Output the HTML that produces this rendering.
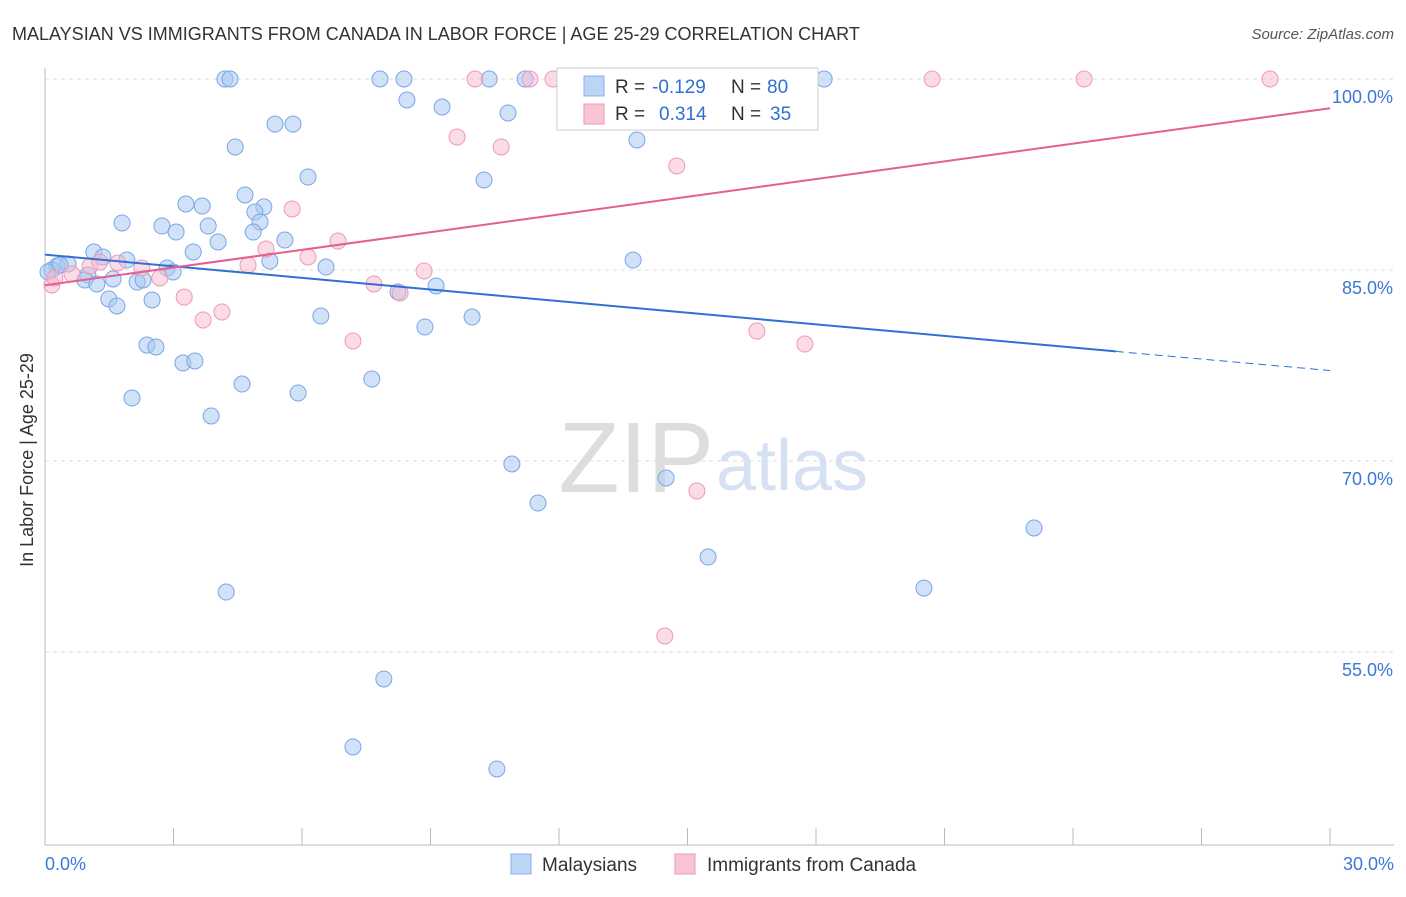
<!DOCTYPE html>
<html><head><meta charset="utf-8"><style>
body{margin:0;background:#fff;font-family:"Liberation Sans",sans-serif;}
svg text{font-family:"Liberation Sans",sans-serif;}
</style></head><body>
<svg id="chart" width="1406" height="892" xmlns="http://www.w3.org/2000/svg">
<text x="12" y="40" font-size="18" fill="#333">MALAYSIAN VS IMMIGRANTS FROM CANADA IN LABOR FORCE | AGE 25-29 CORRELATION CHART</text>
<text x="1394" y="39" font-size="15" fill="#555" font-style="italic" text-anchor="end">Source: ZipAtlas.com</text>
<text x="714" y="492" font-size="100" fill="#ddd" text-anchor="end" font-family="Liberation Serif">ZIP</text>
<text x="716" y="490" font-size="72" fill="#d6e2f3">atlas</text>
<g id="grid"></g>
<g id="axes"></g>
<g id="pts"></g>
<g id="lines"></g>
<text x="33" y="460" font-size="18" fill="#333" transform="rotate(-90 33 460)" text-anchor="middle">In Labor Force | Age 25-29</text>
<g>
<rect x="557" y="68" width="261" height="62" fill="#fff" stroke="#ccc"/>
<rect x="584" y="76" width="20" height="20" fill="#bcd4f6" stroke="#8ab0e8"/>
<rect x="584" y="104" width="20" height="20" fill="#f9c5d5" stroke="#ee9ab5"/>
<text x="615" y="93" font-size="19" fill="#333">R =</text>
<text x="652" y="93" font-size="19" fill="#2f6fd6">-0.129</text>
<text x="731" y="93" font-size="19" fill="#333">N =</text>
<text x="767" y="93" font-size="19" fill="#2f6fd6">80</text>
<text x="615" y="120" font-size="19" fill="#333">R =</text>
<text x="659" y="120" font-size="19" fill="#2f6fd6">0.314</text>
<text x="731" y="120" font-size="19" fill="#333">N =</text>
<text x="770" y="120" font-size="19" fill="#2f6fd6">35</text>
</g>
<g>
<rect x="511" y="854" width="20" height="20" fill="#bcd4f6" stroke="#8ab0e8"/>
<text x="542" y="871" font-size="19" fill="#333">Malaysians</text>
<rect x="675" y="854" width="20" height="20" fill="#f9c5d5" stroke="#ee9ab5"/>
<text x="707" y="871" font-size="19" fill="#333">Immigrants from Canada</text>
</g>
</svg>
<script>
const xTicks=[0,3,6,9,12,15,18,21,24,27,30];
const yTicks=[100,85,70,55];
const blueX=[4.20,4.32,7.82,8.38,10.37,11.21,12.26,14.12,18.19,8.45,9.27,10.81,5.37,5.79,4.44,13.82,6.14,10.25,4.67,3.29,3.67,5.11,4.90,1.80,2.73,3.06,3.81,5.02,4.86,4.04,5.60,3.46,1.14,1.35,1.91,5.25,13.73,6.56,0.28,0.54,2.85,2.99,0.16,1.00,1.59,2.15,2.29,0.93,1.21,9.13,8.24,1.49,2.50,1.68,6.44,9.97,8.87,2.38,2.59,3.22,3.50,7.63,4.60,2.03,5.91,3.88,10.90,11.51,14.50,23.09,15.48,20.52,4.23,7.91,7.19,10.55,0.07,0.35];
const blueY=[100,100,100,100,100,100,100,100,100,98.35,97.80,97.33,96.46,96.46,94.66,95.21,92.30,92.07,90.89,90.18,90.02,89.95,89.55,88.69,88.45,87.98,88.45,88.77,87.98,87.20,87.35,86.41,86.41,86.02,85.78,85.70,85.78,85.23,85.31,85.47,85.15,84.84,85.00,84.60,84.29,84.05,84.21,84.21,83.90,83.74,83.27,82.72,82.64,82.17,81.38,81.30,80.52,79.10,78.95,77.69,77.85,76.43,76.04,74.94,75.33,73.53,69.76,66.69,68.66,64.73,62.45,60.01,59.70,52.87,47.53,45.80,84.84,85.39];
const pinkX=[10.04,11.32,11.86,12.21,16.23,20.71,24.26,28.60,9.62,10.65,14.75,5.77,6.84,5.16,6.14,1.70,2.26,2.68,4.74,8.85,7.68,8.29,3.25,4.13,3.69,7.19,16.62,17.74,15.22,14.47,0.16,0.63,1.05,0.23,1.28];
const pinkY=[100,100,100,100,100,100,100,100,95.44,94.66,93.17,89.79,87.27,86.65,86.02,85.55,85.15,84.37,85.39,84.92,83.90,83.19,82.87,81.70,81.07,79.42,80.20,79.18,67.64,56.25,83.82,84.68,85.31,84.37,85.62];
const blueTrend=[86.2,78.6,77.1];
const blueTrendX=[0,25,30];
const pinkTrend=[83.8,97.7];
const pinkTrendX=[0,30];
const X=v=>45+v/30*1285, Y=v=>79+(100-v)*12.73;
const NS="http://www.w3.org/2000/svg";
function mk(t,a,p){const e=document.createElementNS(NS,t);for(const k in a)e.setAttribute(k,a[k]);document.getElementById(p).appendChild(e);return e;}
yTicks.forEach(v=>{
 const g=mk('line',{x1:45,x2:1394,y1:Y(v),y2:Y(v),stroke:'#ddd','stroke-dasharray':'4,4'},'grid');
 
 
 const t=mk('text',{x:1393,y:Y(v)+24,'font-size':18,fill:'#3b78d8','text-anchor':'end'},'axes');t.textContent=v.toFixed(1)+'%';
 
 
});
const ax=mk('line',{x1:45,x2:1394,y1:845,y2:845,stroke:'#bbb'},'axes');


const ay=mk('line',{x1:45,x2:45,y1:68,y2:845,stroke:'#bbb'},'axes');


xTicks.forEach(v=>{const l=mk('line',{x1:X(v),x2:X(v),y1:828,y2:845,stroke:'#bbb'},'axes');
 
 });
[[0,'start'],[30,'end']].forEach(([v,a])=>{const t=mk('text',{x:X(v)+(v?64:0),y:870,'font-size':18,fill:'#3b78d8','text-anchor':a},'axes');t.textContent=v.toFixed(1)+'%';
 
 });
blueX.forEach((v,i)=>{const c=mk('circle',{cx:X(v),cy:Y(blueY[i]),r:8,fill:'#aac8f2','fill-opacity':0.55,stroke:'#7aa6e6','stroke-width':1},'pts');
 
 });
pinkX.forEach((v,i)=>{const c=mk('circle',{cx:X(v),cy:Y(pinkY[i]),r:8,fill:'#f7b8cc','fill-opacity':0.5,stroke:'#ee9ab5','stroke-width':1},'pts');
 
 });
const b1=mk('line',{x1:X(blueTrendX[0]),y1:Y(blueTrend[0]),x2:X(blueTrendX[1]),y2:Y(blueTrend[1]),stroke:'#2f6fd6','stroke-width':2},'lines');


const b2=mk('line',{x1:X(blueTrendX[1]),y1:Y(blueTrend[1]),x2:X(blueTrendX[2]),y2:Y(blueTrend[2]),stroke:'#2f6fd6','stroke-width':1,'stroke-dasharray':'8,5'},'lines');


const p1=mk('line',{x1:X(pinkTrendX[0]),y1:Y(pinkTrend[0]),x2:X(pinkTrendX[1]),y2:Y(pinkTrend[1]),stroke:'#e4608e','stroke-width':2},'lines');


</script>
</body></html>
